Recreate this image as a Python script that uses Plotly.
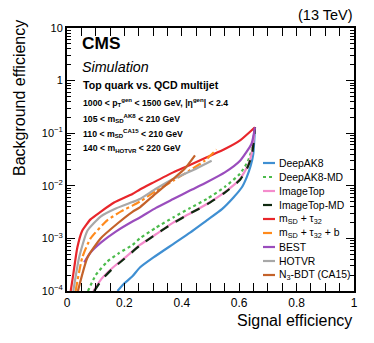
import plotly.graph_objects as go

# ---------------------------------------------------------------
# ROC curves (signal eff. vs background eff.)
# ---------------------------------------------------------------

labels = [
    "DeepAK8",
    "DeepAK8-MD",
    "ImageTop",
    "ImageTop-MD",
    "m<sub>SD</sub> + τ<sub>32</sub>",
    "m<sub>SD</sub> + τ<sub>32</sub> + b",
    "BEST",
    "HOTVR",
    "N<sub>3</sub>-BDT (CA15)",
]

sig_deepak8 = [0.176, 0.2, 0.228, 0.254, 0.3, 0.37, 0.43, 0.487, 0.54, 0.58, 0.61, 0.626, 0.64, 0.649, 0.655]
bkg_deepak8 = [1e-4, 1.4e-4, 1.9e-4, 2.8e-4, 4.3e-4, 7.8e-4, 1.3e-3, 2.2e-3, 3.6e-3, 6e-3, 9.5e-3, 1.45e-2, 2.4e-2, 4e-2, 0.13]

sig_deepak8_md = [0.073, 0.1, 0.14, 0.18, 0.228, 0.254, 0.31, 0.37, 0.43, 0.487, 0.55, 0.603, 0.63, 0.643, 0.655]
bkg_deepak8_md = [1e-4, 2e-4, 3.6e-4, 5.2e-4, 7.5e-4, 1.0e-3, 1.6e-3, 2.5e-3, 3.8e-3, 5.6e-3, 9.5e-3, 1.7e-2, 2.9e-2, 4.7e-2, 0.13]

sig_imagetop = [0.092, 0.12, 0.16, 0.2, 0.254, 0.31, 0.37, 0.43, 0.487, 0.55, 0.603, 0.63, 0.643, 0.655]
bkg_imagetop = [1e-4, 1.7e-4, 2.8e-4, 4.2e-4, 7.5e-4, 1.2e-3, 2.0e-3, 3.0e-3, 4.5e-3, 7.6e-3, 1.35e-2, 2.4e-2, 4e-2, 0.13]

sig_imagetop_md = [0.095, 0.12, 0.16, 0.2, 0.254, 0.31, 0.37, 0.43, 0.487, 0.55, 0.603, 0.63, 0.645, 0.655]
bkg_imagetop_md = [1e-4, 1.6e-4, 2.7e-4, 4.1e-4, 7.3e-4, 1.2e-3, 1.95e-3, 3.0e-3, 4.4e-3, 7.4e-3, 1.3e-2, 2.3e-2, 4e-2, 0.13]

sig_msd_tau = [0.013, 0.022, 0.036, 0.053, 0.082, 0.117, 0.164, 0.228, 0.254, 0.3, 0.37, 0.43, 0.487, 0.55, 0.603, 0.655]
bkg_msd_tau = [1e-4, 2.1e-4, 6.7e-4, 1.4e-3, 2.3e-3, 3.2e-3, 4.8e-3, 7e-3, 8.5e-3, 1.15e-2, 1.8e-2, 2.5e-2, 3.5e-2, 5e-2, 7.3e-2, 0.13]

sig_msd_tau_b = [0.03, 0.053, 0.082, 0.14, 0.19, 0.228, 0.254, 0.31, 0.37, 0.43, 0.48, 0.521]
bkg_msd_tau_b = [1e-4, 4.3e-4, 1e-3, 2.2e-3, 3.3e-3, 4.2e-3, 5e-3, 8e-3, 1.25e-2, 2.0e-2, 3.0e-2, 4.9e-2]

sig_best = [0.06, 0.082, 0.12, 0.17, 0.228, 0.254, 0.31, 0.37, 0.43, 0.487, 0.55, 0.603, 0.643, 0.655]
bkg_best = [3.5e-4, 5.4e-4, 8.5e-4, 1.35e-3, 2.1e-3, 2.5e-3, 3.8e-3, 5.6e-3, 8.2e-3, 1.17e-2, 1.8e-2, 3.0e-2, 6.3e-2, 0.13]

sig_hotvr = [0.022, 0.042, 0.071, 0.117, 0.17, 0.228, 0.254, 0.31, 0.37, 0.44, 0.504]
bkg_hotvr = [1e-4, 4.3e-4, 1.4e-3, 2.6e-3, 3.7e-3, 4.9e-3, 5.6e-3, 8.8e-3, 1.35e-2, 2.0e-2, 3.0e-2]

sig_n3bdt = [0.038, 0.071, 0.117, 0.175, 0.228, 0.254, 0.31, 0.37, 0.41, 0.446]
bkg_n3bdt = [1e-4, 4.3e-4, 1e-3, 1.9e-3, 3.2e-3, 3.9e-3, 7.2e-3, 1.35e-2, 2.1e-2, 3.8e-2]

x_ticks = [0, 0.2, 0.4, 0.6, 0.8, 1]
x_tick_text = ["0", "0.2", "0.4", "0.6", "0.8", "1"]
y_ticks = [1e-4, 1e-3, 1e-2, 1e-1, 1, 10]
y_tick_text = ["10<sup>−4</sup>", "10<sup>−3</sup>", "10<sup>−2</sup>", "10<sup>−1</sup>", "1", "10"]

# ---------------------------------------------------------------
# styles
# ---------------------------------------------------------------

FONT = "Liberation Sans, Arial, Helvetica, sans-serif"
W, H = 374, 343
M_L, M_R, M_T, M_B = 67, 20, 28, 52
PLOT_W = W - M_L - M_R
PLOT_H = H - M_T - M_B

series = [
    (sig_deepak8, bkg_deepak8, "#3f8fd2", "solid"),
    (sig_deepak8_md, bkg_deepak8_md, "#4cbb4c", "dot"),
    (sig_imagetop, bkg_imagetop, "#f48ccc", "solid"),
    (sig_imagetop_md, bkg_imagetop_md, "#0f2a10", "dash"),
    (sig_msd_tau, bkg_msd_tau, "#e8262b", "solid"),
    (sig_msd_tau_b, bkg_msd_tau_b, "#ff8a1c", "dashdot"),
    (sig_best, bkg_best, "#9a4dbd", "solid"),
    (sig_hotvr, bkg_hotvr, "#a8a8a8", "solid"),
    (sig_n3bdt, bkg_n3bdt, "#c4622a", "solid"),
]


def px_x(px):
    return (px - M_L) / PLOT_W


def px_y(py):
    return 1 - (py - M_T) / PLOT_H


fig = go.Figure()

for i, ((xs, ys, color, dash), name) in enumerate(zip(series, labels)):
    # last curve sits on the overlay axis that carries the minor log ticks
    fig.add_trace(go.Scatter(
        x=xs, y=ys, name=name, mode="lines",
        line=dict(color=color, width=2.2, dash=dash, shape="spline", smoothing=0.5),
        showlegend=False,
        yaxis="y2" if i == len(series) - 1 else "y",
    ))

# ---------------------------------------------------------------
# ROOT-like legend (compact rows)
# ---------------------------------------------------------------

LEG_TOP, LEG_STEP = 163, 14
shapes = []
annotations = []
for i, ((xs, ys, color, dash), name) in enumerate(zip(series, labels)):
    yy = px_y(LEG_TOP + i * LEG_STEP)
    shapes.append(dict(
        type="line", xref="paper", yref="paper",
        x0=px_x(263), x1=px_x(275), y0=yy, y1=yy,
        line=dict(color=color, width=2.2, dash=dash),
    ))
    annotations.append(dict(
        text=name, x=px_x(277), y=yy, xref="paper", yref="paper",
        xanchor="left", yanchor="middle", showarrow=False,
        font=dict(size=10.4, color="black", family=FONT),
    ))

# ---------------------------------------------------------------
# labels
# ---------------------------------------------------------------

cuts = [
    "1000 &lt; p<sub>T</sub><sup>gen</sup> &lt; 1500 GeV, |η<sup>gen</sup>| &lt; 2.4",
    "105 &lt; m<sub>SD</sub><sup>AK8</sup> &lt; 210 GeV",
    "110 &lt; m<sub>SD</sub><sup>CA15</sup> &lt; 210 GeV",
    "140 &lt; m<sub>HOTVR</sub> &lt; 220 GeV",
]
cut_rows = [102, 118, 133, 148]

annotations += [
    dict(text="<b>CMS</b>", x=px_x(80), y=px_y(43), font=dict(size=17.3)),
    dict(text="<i>Simulation</i>", x=px_x(80), y=px_y(67), font=dict(size=14.3)),
    dict(text="<b>Top quark vs. QCD multijet</b>", x=px_x(81), y=px_y(85), font=dict(size=10.6)),
]
for txt, row in zip(cuts, cut_rows):
    annotations.append(dict(text="<b>" + txt + "</b>", x=px_x(81), y=px_y(row), font=dict(size=8.7)))

for a in annotations[-(len(cuts) + 3):]:
    a.update(xref="paper", yref="paper", xanchor="left", yanchor="middle", showarrow=False)
    a["font"].update(color="black", family=FONT)

annotations += [
    dict(text="(13 TeV)", x=px_x(355), y=px_y(15), xref="paper", yref="paper",
         xanchor="right", yanchor="middle", showarrow=False,
         font=dict(size=14.5, color="black", family=FONT)),
    dict(text="Signal efficiency", x=1, y=px_y(320), xref="paper", yref="paper",
         xanchor="right", yanchor="middle", showarrow=False,
         font=dict(size=16, color="black", family=FONT)),
    dict(text="Background efficiency", x=px_x(20), y=px_y(18), xref="paper", yref="paper",
         xanchor="center", yanchor="top", textangle=-90, showarrow=False,
         font=dict(size=16, color="black", family=FONT)),
]

# minor ticks at 2..9 of every decade
y_minor = [m * 10.0 ** e for e in range(-4, 1) for m in range(2, 10)]

fig.update_layout(
    width=W, height=H,
    margin=dict(l=M_L, r=M_R, t=M_T, b=M_B),
    paper_bgcolor="white", plot_bgcolor="white",
    font=dict(family=FONT, color="black", size=11),
    shapes=shapes,
    annotations=annotations,
    showlegend=False,
    xaxis=dict(
        range=[0, 1], tickmode="array", tickvals=x_ticks, ticktext=x_tick_text,
        ticks="inside", ticklen=8, tickwidth=1, tickcolor="black",
        minor=dict(ticks="inside", dtick=0.05, ticklen=4, tickcolor="black", showgrid=False),
        showline=True, linecolor="black", linewidth=2, mirror="allticks",
        showgrid=False, zeroline=False,
        tickfont=dict(size=12, family=FONT),
    ),
    yaxis=dict(
        type="log", range=[-4, 1], tickmode="array", tickvals=y_ticks, ticktext=y_tick_text,
        ticks="inside", ticklen=8, tickwidth=1, tickcolor="black",
        showline=True, linecolor="black", linewidth=2, mirror="allticks",
        showgrid=False, zeroline=False,
        tickfont=dict(size=11, family=FONT),
    ),
    yaxis2=dict(
        type="log", range=[-4, 1], overlaying="y", side="left",
        tickmode="array", tickvals=y_minor, showticklabels=False,
        ticks="inside", ticklen=4, tickwidth=1, tickcolor="black",
        showline=False, mirror="allticks",
        showgrid=False, zeroline=False,
    ),
)

# the page gets a default 8px body margin; drop it so the figure sits at 0,0
fig.write_html(
    "out.html",
    config={"displayModeBar": False},
    post_script="document.body.style.margin='0';",
)
